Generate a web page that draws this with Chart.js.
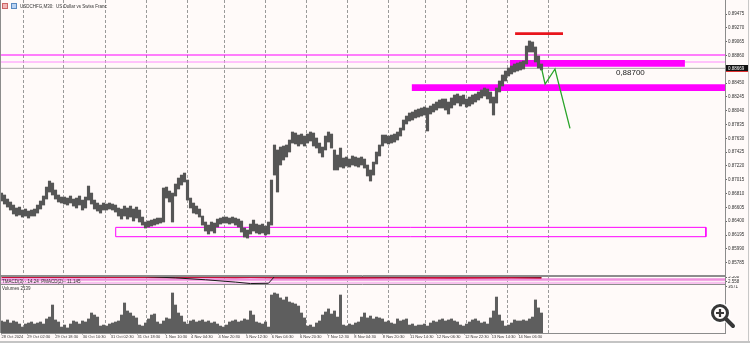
<!DOCTYPE html>
<html><head><meta charset="utf-8">
<script src="https://cdn.jsdelivr.net/npm/chart.js@4.4.1/dist/chart.umd.min.js"></script>
<style>
html,body{margin:0;padding:0;background:#fffaf9;}
#wrap{position:relative;width:750px;height:343px;overflow:hidden;background:#fffaf9;}
.pane{position:absolute;left:0;width:750px;}
#frameR{position:absolute;left:748px;top:0;width:1px;height:343px;background:#c8c8c8;}
#frameB{position:absolute;left:0;top:341px;width:750px;height:2px;background:#c4c4c4;}
</style></head><body>
<div id="wrap">
  <div class="pane" style="top:0;height:276px"><canvas id="cMain" width="750" height="276"></canvas></div>
  <div class="pane" style="top:276px;height:9px"><canvas id="cInd" width="750" height="9"></canvas></div>
  <div class="pane" style="top:285px;height:58px"><canvas id="cVol" width="750" height="58"></canvas></div>
  <div id="frameR"></div><div id="frameB"></div>
</div>
<script>
// ---------------- data ----------------
const priceHigh = [
0.86818,0.86789,0.86729,0.86685,0.86640,0.86596,0.86610,0.86566,0.86581,0.86551,
0.86566,0.86581,0.86640,0.86700,0.86774,0.86907,0.86996,0.86967,0.86863,0.86789,
0.86759,0.86759,0.86744,0.86774,0.86729,0.86744,0.86774,0.86714,0.86759,0.86922,
0.86818,0.86714,0.86670,0.86640,0.86670,0.86655,0.86670,0.86655,0.86640,0.86596,
0.86581,0.86625,0.86596,0.86625,0.86581,0.86610,0.86566,0.86462,0.86388,0.86403,
0.86417,0.86432,0.86447,0.86447,0.86893,0.86907,0.86848,0.86818,0.86952,0.87041,
0.87085,0.87115,0.87011,0.86744,0.86670,0.86625,0.86581,0.86477,0.86388,0.86343,
0.86388,0.86373,0.86432,0.86447,0.86462,0.86462,0.86447,0.86462,0.86447,0.86432,
0.86403,0.86299,0.86269,0.86358,0.86417,0.86358,0.86343,0.86358,0.86328,0.86388,
0.87011,0.87531,0.87457,0.87501,0.87516,0.87531,0.87605,0.87724,0.87709,0.87679,
0.87694,0.87664,0.87694,0.87724,0.87709,0.87635,0.87560,0.87501,0.87664,0.87724,
0.87694,0.87457,0.87382,0.87486,0.87338,0.87353,0.87323,0.87368,0.87353,0.87338,
0.87353,0.87323,0.87234,0.87160,0.87278,0.87427,0.87531,0.87679,0.87679,0.87664,
0.87679,0.87694,0.87724,0.87783,0.87902,0.87961,0.88006,0.88021,0.88050,0.88065,
0.88080,0.88095,0.88080,0.88110,0.88139,0.88169,0.88199,0.88214,0.88214,0.88169,
0.88229,0.88273,0.88288,0.88258,0.88273,0.88214,0.88243,0.88273,0.88288,0.88318,
0.88347,0.88377,0.88362,0.88318,0.88243,0.88377,0.88481,0.88570,0.88629,0.88674,
0.88704,0.88733,0.88748,0.88763,0.88778,0.89000,0.89075,0.89060,0.88986,0.88852,
0.88733];
const priceLow = [
0.86700,0.86655,0.86610,0.86566,0.86507,0.86477,0.86492,0.86462,0.86477,0.86447,
0.86477,0.86477,0.86521,0.86581,0.86640,0.86729,0.86833,0.86789,0.86729,0.86685,
0.86670,0.86655,0.86640,0.86670,0.86625,0.86596,0.86640,0.86566,0.86596,0.86714,
0.86655,0.86581,0.86551,0.86521,0.86566,0.86566,0.86581,0.86566,0.86536,0.86477,
0.86432,0.86477,0.86432,0.86462,0.86403,0.86447,0.86388,0.86343,0.86299,0.86314,
0.86328,0.86343,0.86358,0.86373,0.86388,0.86744,0.86685,0.86388,0.86774,0.86878,
0.86937,0.86982,0.86714,0.86596,0.86521,0.86507,0.86462,0.86343,0.86254,0.86210,
0.86254,0.86225,0.86314,0.86358,0.86373,0.86373,0.86358,0.86373,0.86343,0.86314,
0.86239,0.86165,0.86150,0.86210,0.86254,0.86225,0.86210,0.86225,0.86195,0.86210,
0.86343,0.87085,0.86833,0.87234,0.87308,0.87353,0.87427,0.87560,0.87546,0.87516,
0.87546,0.87516,0.87560,0.87590,0.87516,0.87486,0.87412,0.87353,0.87457,0.87575,
0.87486,0.87160,0.87160,0.87204,0.87189,0.87219,0.87204,0.87234,0.87219,0.87204,
0.87234,0.87189,0.87071,0.86996,0.87085,0.87249,0.87368,0.87516,0.87560,0.87546,
0.87560,0.87575,0.87605,0.87664,0.87753,0.87843,0.87887,0.87902,0.87932,0.87946,
0.87961,0.87976,0.87739,0.87991,0.88021,0.88050,0.88080,0.88080,0.88050,0.87991,
0.88080,0.88125,0.88154,0.88110,0.88139,0.88095,0.88110,0.88139,0.88169,0.88199,
0.88229,0.88258,0.88214,0.88154,0.87976,0.88154,0.88318,0.88407,0.88481,0.88555,
0.88585,0.88614,0.88629,0.88644,0.88659,0.88733,0.88911,0.88911,0.88763,0.88674,
0.88644];
const volumes = [
950,870,1030,790,950,870,710,470,710,790,
870,710,790,870,710,1110,1260,2210,1030,870,
470,630,400,710,950,870,710,950,870,1110,
1580,1420,1260,550,630,550,710,790,870,950,
1420,2370,1740,1580,1340,1190,630,550,790,1110,
1420,1500,870,710,950,1190,1110,3160,2210,1580,
1340,870,710,950,1030,870,950,1030,870,950,
790,870,710,550,470,630,870,950,1030,870,
950,1110,1030,1740,1420,870,790,710,870,470,
3000,3160,3080,2770,2610,2840,2450,2370,2290,2130,
1580,1190,550,630,470,790,950,1420,1660,1900,
1500,1740,1260,3000,630,550,710,630,790,870,
1260,1580,1190,1340,1110,1260,1190,1110,870,950,
790,710,1110,950,1030,1110,630,710,550,630,
630,710,550,790,950,870,1030,1110,950,1030,
1110,950,870,630,550,710,870,1030,1110,950,
790,870,710,1190,1740,2840,1420,950,550,630,
790,1030,950,950,1030,950,1110,1260,2610,1980,
1580];
const priceTicks = [0.89475,0.89270,0.89065,0.88860,0.88655,0.88450,0.88245,0.88040,0.87835,0.87630,
  0.87425,0.87220,0.87015,0.86810,0.86605,0.86400,0.86195,0.85990,0.85785];
const xLabels = ['28 Oct 2024','29 Oct 02:30','29 Oct 18:30','30 Oct 10:30','31 Oct 02:30','31 Oct 18:30',
  '1 Nov 10:30','4 Nov 04:30','4 Nov 20:30','5 Nov 12:30','6 Nov 04:30','6 Nov 20:30','7 Nov 12:30',
  '8 Nov 04:30','8 Nov 20:30','11 Nov 14:30','12 Nov 06:30','12 Nov 22:30','13 Nov 14:30','14 Nov 06:30'];
const xLabelIdx = [0,8.6,17.9,27.1,36.4,45.3,54.7,63.2,72.3,81.5,90.1,99.5,108.6,117.6,127.1,136.2,145.1,154.5,163.4,172.3];
const dayBreaks = [7.27,20.83,34.6,48.4,62.07,74.27,88.07,101.73,115.27,128.93,141.4,155.07,168.6,182.27];
// drawn objects: [fromIdx, toIdx, priceTop, priceBottom]
const zoneHigh = [169.5, 227.8, 0.88793, 0.88693];
const zoneMid  = [136.7, 241.17, 0.88432, 0.88333];
const zoneRed  = [171.2, 187.2, 0.89204, 0.89164];
const boxLow   = [38.07, 234.8, 0.86309, 0.86170];
const levelTop = 0.88867, levelBottom = 0.88763;
const bidPrice = 0.88669;
const greenIdx = [180.1, 181.2, 184.5, 189.5];
const greenPrice = [0.88655, 0.88436, 0.88659, 0.87779];
const indX = [0, 48, 58, 68, 78, 83, 89, 91, 110, 130, 150, 170, 180];
const indBlack = [null, 5.8, 4.9, 3.6, 2.0, 1.0, 1.2, 5.8, 5.9, 5.7, 5.9, 5.8, 5.6];
const indRed = [5.4, 5.4, 5.3, 5.4, 5.3, 5.4, 5.3, 5.1, 5.0, 5.1, 5.0, 5.1, 5.0];
const indTicks = [5.508, 2.558];
const volTicks = [3671];

// ---------------- helpers ----------------
const X_MIN = -0.17, X_MAX = 241.17;
const PRICE_MAX = 0.89683, PRICE_MIN = 0.85587;
const FONT = 'Liberation Sans, Arial, sans-serif';
const TXT = '#333';

function gridAxis(){
  return {type:'linear', min:X_MIN, max:X_MAX, position:'bottom', offset:false,
    afterBuildTicks: s => { s.ticks = dayBreaks.map(v => ({value:v})); },
    ticks:{display:false},
    grid:{display:true, drawTicks:false, color:'#9a9a9a', lineWidth:1, offset:false},
    border:{display:false, dash:[3,2]}};
}
function rightAxis(min, max, ticks, fmt){
  return {type:'linear', position:'right', min, max,
    afterBuildTicks: s => { s.ticks = ticks.map(v => ({value:v})); },
    afterFit: s => { s.width = 25; s.paddingTop = 0; s.paddingBottom = 0; },
    ticks:{callback: fmt, font:{family:FONT, size:4.5}, color:TXT, padding:1, autoSkip:false},
    grid:{drawOnChartArea:false, drawTicks:true, tickLength:2, color:'#666'},
    border:{display:false}};
}
const seg = (xs, ys) => xs.map((x,i) => ({x, y:ys[i]}));
const lineDs = (pts, color, width, order) => ({type:'line', data:pts, borderColor:color, borderWidth:width,
  pointRadius:0, fill:false, tension:0, order, spanGaps:false});
const zoneDs = (z, color, order) => ({type:'line', data:[{x:z[0],y:z[2]},{x:z[1],y:z[2]}], borderWidth:0,
  borderColor:color, backgroundColor:color, pointRadius:0, fill:{value:z[3]}, order});
const baseOpts = (scales) => ({responsive:false, animation:false, events:[],
  layout:{padding:{left:1, right:0, top:0, bottom:0}},
  plugins:{legend:{display:false}, tooltip:{enabled:false}}, scales});
function frame(ctx, a, top, bottom){
  ctx.save(); ctx.strokeStyle = '#8c8c8c'; ctx.lineWidth = 1; ctx.beginPath();
  ctx.moveTo(0.5, a.top); ctx.lineTo(0.5, a.bottom);
  ctx.moveTo(a.right + 0.5, a.top); ctx.lineTo(a.right + 0.5, a.bottom);
  if (top) { ctx.moveTo(0, a.top + 0.5); ctx.lineTo(a.right, a.top + 0.5); }
  if (bottom) { ctx.moveTo(0, a.bottom - 0.5); ctx.lineTo(a.right, a.bottom - 0.5); }
  ctx.stroke(); ctx.restore();
}
function text(ctx, s, x, y, size, color, align){
  ctx.save(); ctx.font = size + 'px ' + FONT; ctx.fillStyle = color; ctx.textAlign = align || 'left';
  ctx.textBaseline = 'middle'; ctx.fillText(s, x, y); ctx.restore();
}

// ---------------- main price pane ----------------
const mainDecor = {id:'mainDecor', afterDraw(chart){
  const {ctx, chartArea:a, scales:{x, y}} = chart;
  frame(ctx, a, false, true);
  ctx.save();
  ctx.fillStyle = '#f2b6b6'; ctx.fillRect(2, 3, 6, 6); ctx.strokeStyle = '#c66'; ctx.strokeRect(2.5, 3.5, 5, 5);
  ctx.fillStyle = '#b9d2f2'; ctx.fillRect(11, 3, 6, 6); ctx.strokeStyle = '#5a8ac0'; ctx.strokeRect(11.5, 3.5, 5, 5);
  ctx.restore();
  text(ctx, 'USDCHFG,M30:  US Dollar vs Swiss Franc', 20, 6.5, 4.5, TXT);
  text(ctx, '0,88700', x.getPixelForValue(204.8), y.getPixelForValue(0.88604), 8, '#222');
  const py = Math.round(y.getPixelForValue(bidPrice));
  ctx.save(); ctx.fillStyle = '#111'; ctx.fillRect(a.right + 1, py - 3, 22, 6);
  ctx.fillStyle = '#e03030'; ctx.fillRect(a.right + 1, py + 3, 22, 1); ctx.restore();
  text(ctx, bidPrice.toFixed(5), a.right + 3, py + 0.3, 4.5, '#fff');
}};
new Chart(document.getElementById('cMain'), {
  type:'bar',
  data:{datasets:[
    {type:'bar', data: priceLow.map((lo,i) => ({x:i, y:[lo, priceHigh[i]]})), backgroundColor:'#565656',
      barThickness:2.5, order:1},
    lineDs(seg(greenIdx, greenPrice), '#2aa42a', 1.3, 0),
    zoneDs(zoneHigh, '#ff00ff', 10),
    zoneDs(zoneMid, '#ff00ff', 10),
    zoneDs(zoneRed, '#e8141c', 10),
    lineDs(seg([boxLow[0], boxLow[1], boxLow[1], boxLow[0], boxLow[0]], [boxLow[2], boxLow[2], boxLow[3], boxLow[3], boxLow[2]]), '#ff00ff', 1, 10),
    lineDs(seg([X_MIN, X_MAX], [levelTop, levelTop]), '#ff00ff', 1.2, 11),
    lineDs(seg([X_MIN, X_MAX], [levelBottom, levelBottom]), '#ff8cff', 1.2, 11),
    lineDs(seg([X_MIN, X_MAX], [bidPrice, bidPrice]), '#a6a6a6', 1, 12)
  ]},
  options: baseOpts({x: gridAxis(), y: rightAxis(PRICE_MIN, PRICE_MAX, priceTicks, v => v.toFixed(5))}),
  plugins:[mainDecor]
});

// ---------------- indicator pane ----------------
const indDecor = {id:'indDecor', afterDraw(chart){
  const {ctx, chartArea:a} = chart;
  frame(ctx, a, true, true);
  text(ctx, 'TMACD(3) - 14.24  PMACD(2) - 11.145', 2, 5.8, 4.5, TXT);
}};
new Chart(document.getElementById('cInd'), {
  type:'line',
  data:{datasets:[
    zoneDs([X_MIN, X_MAX, 2.2, 0.6], '#f7c2ee', 20),
    zoneDs([X_MIN, X_MAX, 4.6, 3.0], '#ee8fdc', 20),
    lineDs(seg(indX, indRed), '#c8103a', 1.8, 5),
    lineDs(seg(indX, indBlack), '#1a1a1a', 1, 4)
  ]},
  options: baseOpts({x: gridAxis(), y: rightAxis(0, 6.2, indTicks, v => v.toFixed(3))}),
  plugins:[indDecor]
});

// ---------------- volume pane ----------------
const volDecor = {id:'volDecor', afterDraw(chart){
  const {ctx, chartArea:a} = chart;
  frame(ctx, a, false, false);
  text(ctx, 'Volumes 2139', 2, a.top + 4, 4.5, TXT);
  const cx = a.right - 5, cy = a.top + 28;
  ctx.save(); ctx.lineCap = 'round';
  ctx.strokeStyle = 'rgba(255,255,255,0.9)'; ctx.lineWidth = 6;
  ctx.beginPath(); ctx.arc(cx, cy, 7.5, 0, Math.PI * 2); ctx.stroke();
  ctx.beginPath(); ctx.moveTo(cx + 5.5, cy + 5.5); ctx.lineTo(cx + 13, cy + 13); ctx.stroke();
  ctx.strokeStyle = '#383838'; ctx.lineWidth = 3;
  ctx.beginPath(); ctx.arc(cx, cy, 7.5, 0, Math.PI * 2); ctx.stroke();
  ctx.lineWidth = 4; ctx.beginPath(); ctx.moveTo(cx + 5.5, cy + 5.5); ctx.lineTo(cx + 13, cy + 13); ctx.stroke();
  ctx.lineWidth = 2.2; ctx.lineCap = 'butt'; ctx.beginPath();
  ctx.moveTo(cx - 4, cy); ctx.lineTo(cx + 4, cy); ctx.moveTo(cx, cy - 4); ctx.lineTo(cx, cy + 4); ctx.stroke();
  ctx.restore();
}};
new Chart(document.getElementById('cVol'), {
  type:'bar',
  data:{datasets:[
    {type:'bar', data: volumes.map((v,i) => ({x:i, y:v})), backgroundColor:'#5e5e5e', barThickness:2.4}
  ]},
  options: baseOpts({
    x: gridAxis(),
    xl: {type:'linear', position:'bottom', min:X_MIN, max:X_MAX, offset:false,
      afterBuildTicks: s => { s.ticks = xLabelIdx.map(v => ({value:v})); },
      afterFit: s => { s.height = 10; s.paddingLeft = 0; s.paddingRight = 0; },
      ticks:{callback:(v, i) => xLabels[i], align:'start', font:{family:FONT, size:4}, color:TXT,
        padding:0, maxRotation:0, autoSkip:false},
      grid:{drawOnChartArea:false, drawTicks:true, tickLength:1.5, color:'#777', offset:false},
      border:{display:true, color:'#8c8c8c'}},
    y: rightAxis(0, 3790, volTicks, v => String(v))
  }),
  plugins:[volDecor]
});
</script>
</body></html>
